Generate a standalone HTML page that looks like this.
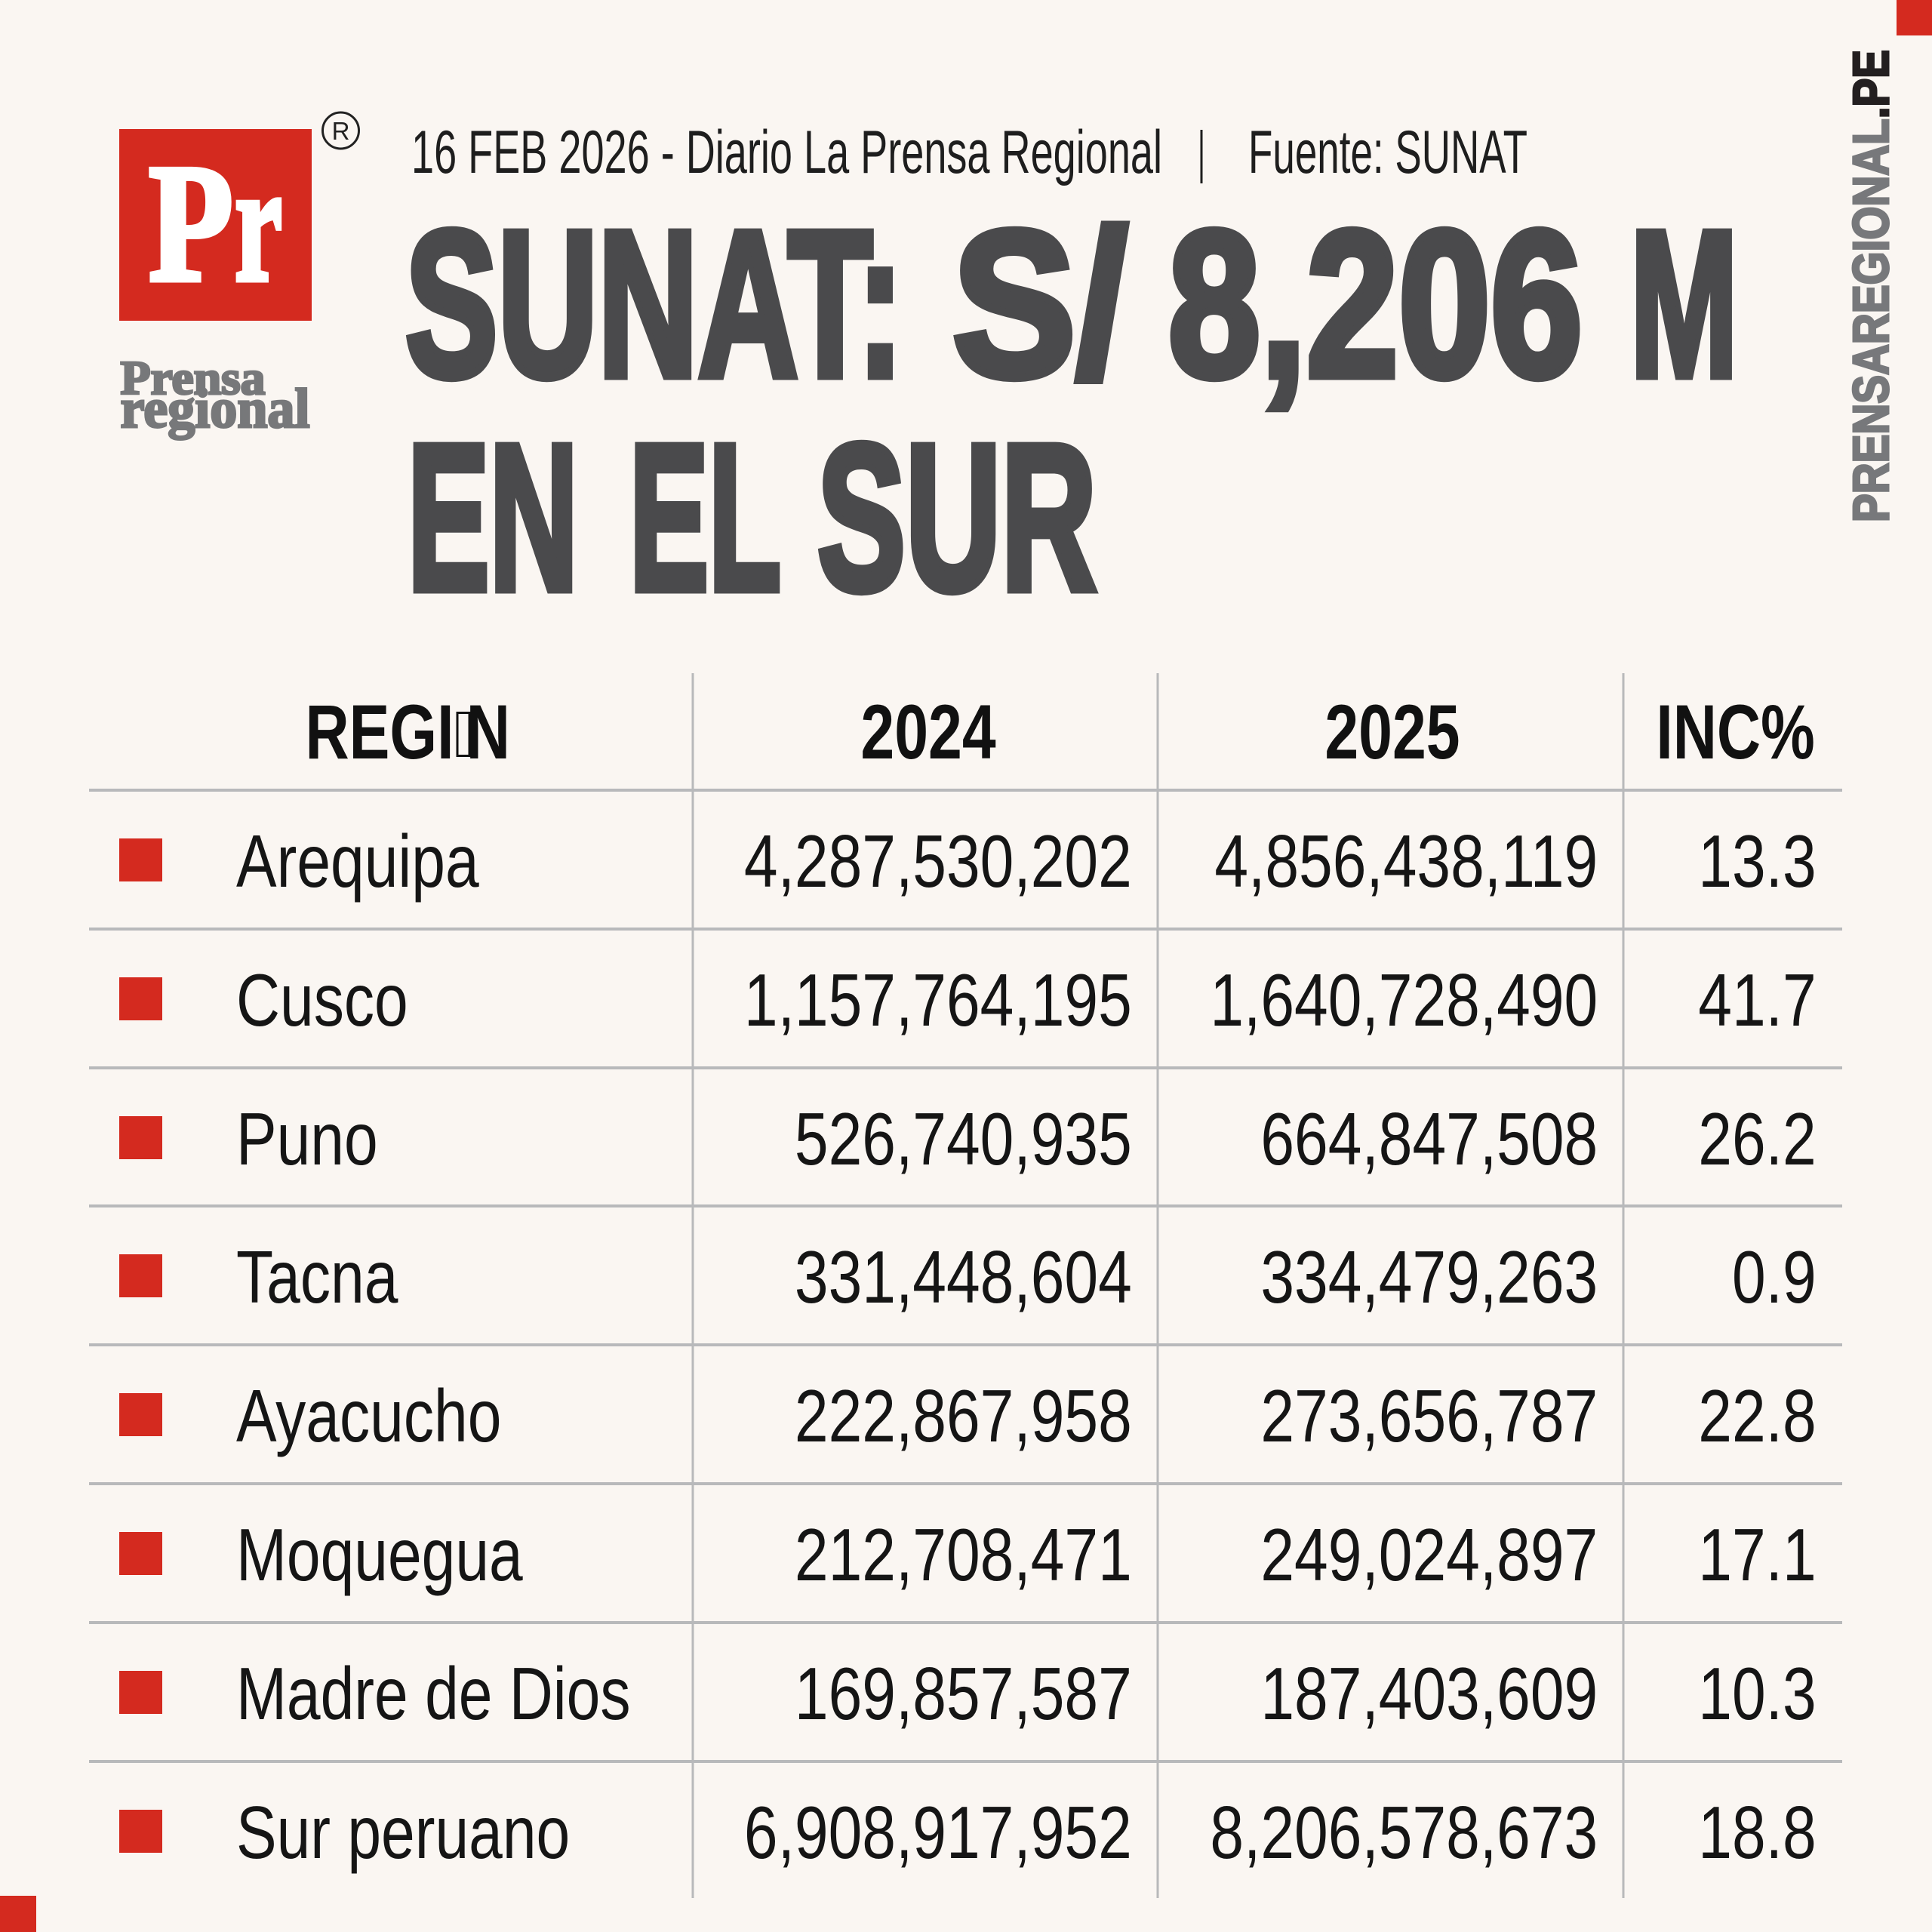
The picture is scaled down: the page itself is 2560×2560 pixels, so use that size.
<!DOCTYPE html>
<html>
<head>
<meta charset="utf-8">
<style>
  html, body { margin:0; padding:0; background:#faf6f2; }
  body { width:2560px; height:2560px; overflow:hidden; }
  svg { display:block; }
  .sans { font-family: "Liberation Sans", Arial, sans-serif; }
  .serif { font-family: "Liberation Serif", "Times New Roman", serif; }
</style>
</head>
<body>
<svg width="2560" height="2560" viewBox="0 0 2560 2560" xmlns="http://www.w3.org/2000/svg">
  <rect x="0" y="0" width="2560" height="2560" fill="#faf6f2"/>

  <!-- corner accents -->
  <rect x="2513" y="0" width="47" height="47" fill="#d42a1f"/>
  <rect x="0" y="2512" width="48" height="48" fill="#d42a1f"/>

  <!-- Logo -->
  <rect x="158" y="171" width="255" height="254" fill="#d42a1f"/>
  <g class="serif" font-weight="bold" fill="#ffffff" stroke="#ffffff" stroke-width="7" stroke-linejoin="miter">
    <text x="197" y="371" font-size="224" textLength="112" lengthAdjust="spacingAndGlyphs">P</text>
    <text x="311" y="371" font-size="224" textLength="63" lengthAdjust="spacingAndGlyphs">r</text>
  </g>
  <circle cx="451.5" cy="173" r="24" fill="none" stroke="#222" stroke-width="3"/>
  <text class="sans" x="451.5" y="185" font-size="33" fill="#222" text-anchor="middle">R</text>
  <g class="serif" font-weight="bold" fill="#77787a" stroke="#77787a" stroke-width="3">
    <text x="159.5" y="522" font-size="63" textLength="192" lengthAdjust="spacingAndGlyphs">Prensa</text>
    <text x="159.5" y="566" font-size="74" textLength="251" lengthAdjust="spacingAndGlyphs">regional</text>
  </g>

  <!-- Subtitle -->
  <text class="sans" x="545" y="229" font-size="81" fill="#1e1e1e" textLength="995" lengthAdjust="spacingAndGlyphs">16 FEB 2026 - Diario La Prensa Regional</text>
  <rect x="1590.5" y="172" width="3" height="71" fill="#1e1e1e"/>
  <text class="sans" x="1654" y="229" font-size="81" fill="#1e1e1e" textLength="370" lengthAdjust="spacingAndGlyphs">Fuente: SUNAT</text>

  <!-- Title -->
  <g class="sans" font-size="276" font-weight="bold" fill="#4a4a4c" stroke="#4a4a4c" stroke-width="11" stroke-linejoin="miter">
    <text x="537" y="498" textLength="660" lengthAdjust="spacingAndGlyphs">SUNAT:</text>
    <text x="1262" y="498" textLength="232" lengthAdjust="spacingAndGlyphs">S/</text>
    <text x="1548" y="498" textLength="549" lengthAdjust="spacingAndGlyphs">8,206</text>
    <text x="2160" y="498" textLength="143" lengthAdjust="spacingAndGlyphs">M</text>
    <text x="540" y="781" textLength="226" lengthAdjust="spacingAndGlyphs">EN</text>
    <text x="834" y="781" textLength="201" lengthAdjust="spacingAndGlyphs">EL</text>
    <text x="1083" y="781" textLength="370" lengthAdjust="spacingAndGlyphs">SUR</text>
  </g>

  <!-- Vertical brand -->
  <text class="sans" transform="translate(2502,692) rotate(-90)" font-size="67" font-weight="bold" fill="#77787b" stroke="#77787b" stroke-width="3" textLength="626" lengthAdjust="spacingAndGlyphs">PRENSAREGIONAL<tspan fill="#231f20" stroke="#231f20">.PE</tspan></text>

  <!-- Table lines -->
  <g fill="#b8b9bb">
    <rect x="916.5" y="892" width="3" height="1623"/>
    <rect x="1532.5" y="892" width="3" height="1623"/>
    <rect x="2149.5" y="892" width="3" height="1623"/>
    <rect x="118" y="1045" width="2323" height="4"/>
    <rect x="118" y="1229" width="2323" height="4"/>
    <rect x="118" y="1413" width="2323" height="4"/>
    <rect x="118" y="1596" width="2323" height="4"/>
    <rect x="118" y="1780" width="2323" height="4"/>
    <rect x="118" y="1964" width="2323" height="4"/>
    <rect x="118" y="2148" width="2323" height="4"/>
    <rect x="118" y="2332" width="2323" height="4"/>
  </g>

  <!-- Header -->
  <g class="sans" font-size="102" font-weight="bold" fill="#111" transform="scale(0.79 1)">
    <text x="512" y="1005">REGI</text>
    <text x="855.7" y="1005" text-anchor="end">N</text>
    <text x="1557" y="1005" text-anchor="middle">2024</text>
    <text x="2335.4" y="1005" text-anchor="middle">2025</text>
    <text x="3044" y="1005" text-anchor="end">INC%</text>
  </g>
  <rect x="606" y="944.5" width="16" height="57" fill="none" stroke="#111" stroke-width="3"/>

  <!-- Red markers -->
  <g fill="#d42a1f">
    <rect x="158" y="1111" width="57" height="57"/>
    <rect x="158" y="1295" width="57" height="57"/>
    <rect x="158" y="1479" width="57" height="57"/>
    <rect x="158" y="1662" width="57" height="57"/>
    <rect x="158" y="1846" width="57" height="57"/>
    <rect x="158" y="2030" width="57" height="57"/>
    <rect x="158" y="2214" width="57" height="57"/>
    <rect x="158" y="2398" width="57" height="57"/>
  </g>

  <!-- Body -->
  <g class="sans" font-size="98" fill="#151515" transform="scale(0.82 1)">
    <text x="381.7" y="1175">Arequipa</text>
    <text x="1829" y="1175" text-anchor="end">4,287,530,202</text>
    <text x="2582" y="1175" text-anchor="end">4,856,438,119</text>
    <text x="2935" y="1175" text-anchor="end">13.3</text>

    <text x="381.7" y="1359">Cusco</text>
    <text x="1829" y="1359" text-anchor="end">1,157,764,195</text>
    <text x="2582" y="1359" text-anchor="end">1,640,728,490</text>
    <text x="2935" y="1359" text-anchor="end">41.7</text>

    <text x="381.7" y="1543">Puno</text>
    <text x="1829" y="1543" text-anchor="end">526,740,935</text>
    <text x="2582" y="1543" text-anchor="end">664,847,508</text>
    <text x="2935" y="1543" text-anchor="end">26.2</text>

    <text x="381.7" y="1726">Tacna</text>
    <text x="1829" y="1726" text-anchor="end">331,448,604</text>
    <text x="2582" y="1726" text-anchor="end">334,479,263</text>
    <text x="2935" y="1726" text-anchor="end">0.9</text>

    <text x="381.7" y="1910">Ayacucho</text>
    <text x="1829" y="1910" text-anchor="end">222,867,958</text>
    <text x="2582" y="1910" text-anchor="end">273,656,787</text>
    <text x="2935" y="1910" text-anchor="end">22.8</text>

    <text x="381.7" y="2094">Moquegua</text>
    <text x="1829" y="2094" text-anchor="end">212,708,471</text>
    <text x="2582" y="2094" text-anchor="end">249,024,897</text>
    <text x="2935" y="2094" text-anchor="end">17.1</text>

    <text x="381.7" y="2278">Madre de Dios</text>
    <text x="1829" y="2278" text-anchor="end">169,857,587</text>
    <text x="2582" y="2278" text-anchor="end">187,403,609</text>
    <text x="2935" y="2278" text-anchor="end">10.3</text>

    <text x="381.7" y="2462">Sur peruano</text>
    <text x="1829" y="2462" text-anchor="end">6,908,917,952</text>
    <text x="2582" y="2462" text-anchor="end">8,206,578,673</text>
    <text x="2935" y="2462" text-anchor="end">18.8</text>
  </g>
</svg>
</body>
</html>
